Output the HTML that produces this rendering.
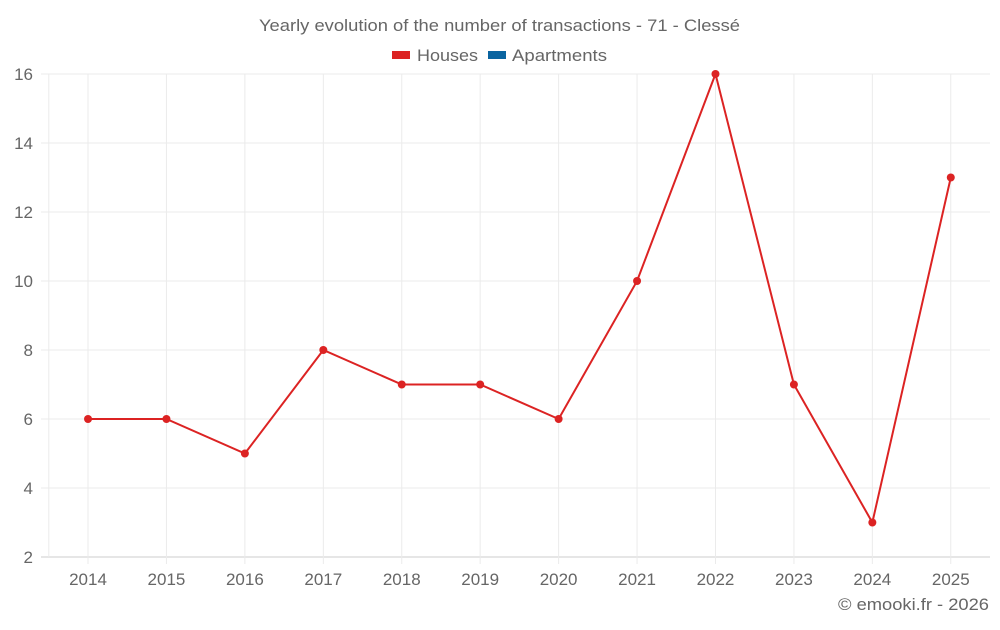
<!DOCTYPE html>
<html><head><meta charset="utf-8"><style>
body{margin:0;background:#fff;font-family:"Liberation Sans",sans-serif;}
svg text{font-family:"Liberation Sans",sans-serif;fill:#666;}
</style></head><body>
<svg id="chart" width="1000" height="625" xmlns="http://www.w3.org/2000/svg">
<text x="259" y="31" font-size="17" textLength="481" lengthAdjust="spacingAndGlyphs">Yearly evolution of the number of transactions - 71 - Clessé</text>
<g>
<g><rect x="392" y="51" width="18" height="8" fill="#dc2323"/><text x="417" y="61" font-size="17" textLength="61" lengthAdjust="spacingAndGlyphs">Houses</text></g>
<g><rect x="488" y="51" width="18" height="8" fill="#0a64a0"/><text x="512" y="61" font-size="17" textLength="95" lengthAdjust="spacingAndGlyphs">Apartments</text></g>
</g>
<g id="grid"></g>
<g id="axes"></g>
<g id="series"></g>
<text x="838" y="610" font-size="17" textLength="151" lengthAdjust="spacingAndGlyphs">© emooki.fr - 2026</text>
</svg>
<script>
const years=["2014","2015","2016","2017","2018","2019","2020","2021","2022","2023","2024","2025"];
const houses=[6,6,5,8,7,7,6,10,16,7,3,13];
const yTicks=[2,4,6,8,10,12,14,16];
const L=48.8,R=990,T=74,B=557,yMin=2,yMax=16;
const band=(R-L)/years.length;
const x=i=>L+band*(i+0.5);
const y=v=>B-(v-yMin)/(yMax-yMin)*(B-T);
const NS="http://www.w3.org/2000/svg";
function mk(tag,attrs,parent){const e=document.createElementNS(NS,tag);for(const k in attrs)e.setAttribute(k,attrs[k]);parent.appendChild(e);return e;}
const grid=document.getElementById('grid'),axes=document.getElementById('axes'),series=document.getElementById('series');
yTicks.forEach(t=>{
 const l=mk('line',{x1:41,x2:R,y1:y(t),y2:y(t),stroke:t===yMin?'#ccc':'#ebebeb','stroke-width':1},grid);
 
 
 const tx=mk('text',{x:33,y:y(t)+6,'text-anchor':'end','font-size':17},axes);
 tx.textContent=t;
 
 
});
const la=mk('line',{x1:L,x2:L,y1:T,y2:B,stroke:'#ebebeb'},grid);


years.forEach((yr,i)=>{
 const g=mk('line',{x1:x(i),x2:x(i),y1:T,y2:B+7,stroke:'#ebebeb'},grid);
 
 
 const tx=mk('text',{x:x(i),y:585,'text-anchor':'middle','font-size':17},axes);
 tx.textContent=yr;
 
 
});
const p=mk('polyline',{points:houses.map((v,i)=>x(i)+','+y(v)).join(' '),fill:'none',stroke:'#dc2323','stroke-width':2},series);


houses.forEach((v,i)=>{
 const c=mk('circle',{cx:x(i),cy:y(v),r:4,fill:'#dc2323'},series);
 
 
});
</script>
</body></html>
